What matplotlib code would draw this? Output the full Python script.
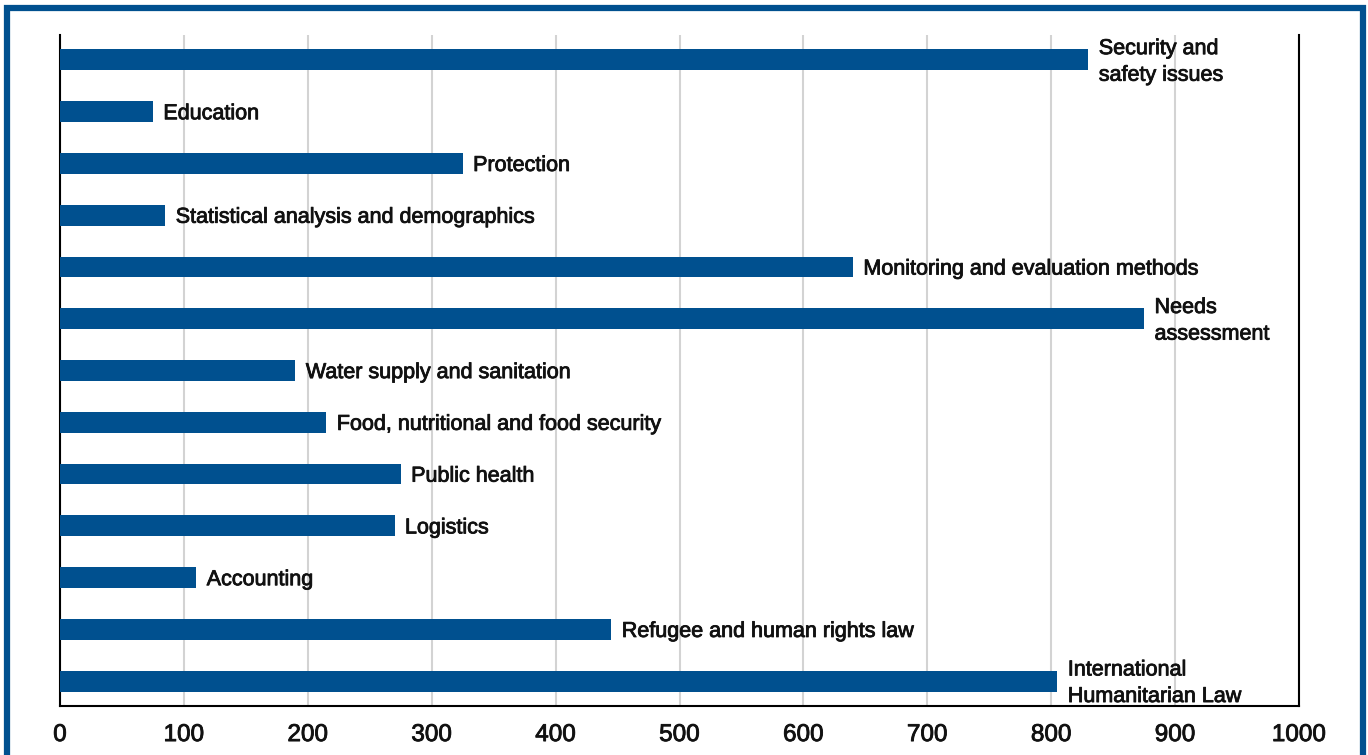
import matplotlib.pyplot as plt
import matplotlib.patheffects as pe
from matplotlib.patches import Rectangle

plt.rcParams['font.family'] = ['Liberation Sans', 'DejaVu Sans']

# bottom to top
categories = [
    'International\nHumanitarian Law',
    'Refugee and human rights law',
    'Accounting',
    'Logistics',
    'Public health',
    'Food, nutritional and food security',
    'Water supply and sanitation',
    'Needs\nassessment',
    'Monitoring and evaluation methods',
    'Statistical analysis and demographics',
    'Protection',
    'Education',
    'Security and\nsafety issues',
]
values = [805, 445, 110, 270, 275, 215, 190, 875, 640, 85, 325, 75, 830]
xticks = list(range(0, 1001, 100))

blue = '#00508F'
txt = '#111111'
medium = [pe.withStroke(linewidth=0.6, foreground=txt)]

fig = plt.figure(figsize=(13.68, 7.55), dpi=100)
ax = fig.add_axes([60 / 1368, 1 - 706 / 755, 1239 / 1368, 671 / 755])

pos = list(range(len(categories)))
ax.barh(pos, values, height=0.4, color=blue, zorder=3)

for y, v, lab in zip(pos, values, categories):
    ax.annotate(lab, (v, y), xytext=(7.5, -1.5), textcoords='offset points',
                va='center', ha='left', fontsize=15.5, color=txt,
                linespacing=1.35, zorder=4, path_effects=medium)

ax.set_xlim(0, 1000)
ax.set_ylim(-0.48, len(categories) - 0.52)
ax.set_xticks(xticks)
ax.set_yticks([])
ax.tick_params(axis='x', length=0, labelsize=17.5, pad=13, labelcolor=txt)
for t in ax.get_xticklabels():
    t.set_path_effects(medium)
ax.grid(axis='x', color='#D3D3D3', linewidth=1.5, zorder=0)
ax.spines['top'].set_visible(False)
for s in ['left', 'bottom', 'right']:
    ax.spines[s].set_linewidth(1.5)
    ax.spines[s].set_color('black')

# blue frame around the figure (open at the bottom edge)
fig.patches.append(Rectangle((7 / 1368, -0.05), (1363 - 7) / 1368, 1.05 - 8 / 755,
                             transform=fig.transFigure, fill=False,
                             edgecolor=blue, linewidth=4.5))

fig.savefig('out.png', dpi=100)
